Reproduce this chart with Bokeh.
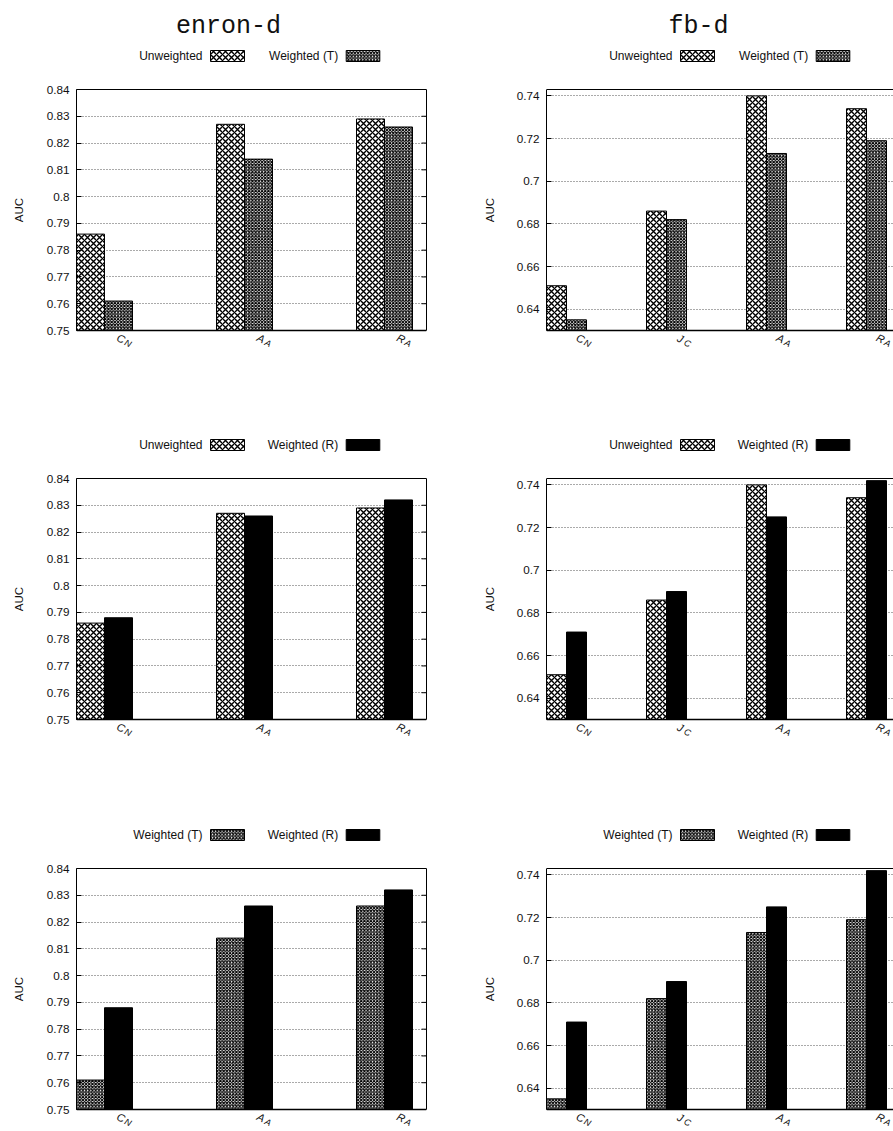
import math

from bokeh.core.properties import value
from bokeh.embed import file_html
from bokeh.layouts import column, row
from bokeh.models import FixedTicker, LinearAxis, Range1d
from bokeh.plotting import figure
from bokeh.resources import INLINE

# AUC of each link-prediction method
enron_methods = ["CN", "AA", "RA"]
enron_unweighted = [0.786, 0.827, 0.829]
enron_weighted_t = [0.761, 0.814, 0.826]
enron_weighted_r = [0.788, 0.826, 0.832]

fb_methods = ["CN", "JC", "AA", "RA"]
fb_unweighted = [0.651, 0.686, 0.740, 0.734]
fb_weighted_t = [0.635, 0.682, 0.713, 0.719]
fb_weighted_r = [0.671, 0.690, 0.725, 0.742]

enron_ticks = [0.75, 0.76, 0.77, 0.78, 0.79, 0.80, 0.81, 0.82, 0.83, 0.84]
enron_tick_labels = ["0.75", "0.76", "0.77", "0.78", "0.79", "0.8", "0.81", "0.82", "0.83", "0.84"]
fb_ticks = [0.64, 0.66, 0.68, 0.70, 0.72, 0.74]
fb_tick_labels = ["0.64", "0.66", "0.68", "0.7", "0.72", "0.74"]

SANS = "Liberation Sans"
INK = "#111111"
PLOT_H = 241  # height of the value area in pixels

STYLES = {
    "Unweighted": dict(fill_color="white", hatch_pattern="diagonal_cross",
                       hatch_color="black", hatch_scale=6.0, hatch_weight=1.4),
    "Weighted (T)": dict(fill_color="white", hatch_pattern="diagonal_cross",
                         hatch_color="black", hatch_scale=3.2, hatch_weight=1.2),
    "Weighted (R)": dict(fill_color="black"),
}


def axis_title(width, height, top_px, x_center):
    """Narrow strip holding the rotated 'AUC' title, centred on the value area."""
    p = figure(width=width, height=height, output_backend="svg", toolbar_location=None,
               x_range=Range1d(0, width), y_range=Range1d(0, height),
               min_border_left=0, min_border_right=0, min_border_top=0,
               min_border_bottom=0, x_axis_location=None, y_axis_location=None,
               outline_line_color=None, background_fill_color="white",
               border_fill_color="white")
    p.grid.visible = False
    p.text(x=[x_center], y=[height - (top_px + PLOT_H / 2)], text=["AUC"],
           angle=math.pi / 2, text_align="center", text_baseline="middle",
           text_font=value(SANS), text_font_size=value("11.5px"), text_color=INK)
    return p


def make_panel(methods, pair, y_lo, y_hi, ticks, tick_labels, width, height,
               border_left, border_right, top_px, x_end, label_dx, closed_right,
               title=None):
    x_start = -0.2
    fw = width - border_left - border_right
    px_x = fw / (x_end - x_start)
    k = (y_hi - y_lo) / PLOT_H  # value units per pixel

    # the frame spans the whole height: key and title above, names below
    y_end = y_hi + top_px * k
    y_start = y_lo - (height - top_px - PLOT_H) * k

    p = figure(width=width, height=height, output_backend="svg", toolbar_location=None,
               x_range=Range1d(x_start, x_end), y_range=Range1d(y_start, y_end),
               min_border_left=border_left, min_border_right=border_right,
               min_border_top=0, min_border_bottom=0, x_axis_location=None,
               outline_line_color=None, background_fill_color="white",
               border_fill_color="white")

    def fx(px):
        return x_start + px / px_x

    def fy(px):  # pixels above the top of the value area
        return y_hi + px * k

    idx = list(range(len(methods)))
    for j, (name, vals) in enumerate(pair):
        off = -0.1 if j == 0 else 0.1
        p.vbar(x=[i + off for i in idx], top=vals, bottom=y_lo, width=0.2,
               line_color="black", line_width=1, **STYLES[name])

    yax = p.yaxis[0]
    yax.bounds = (y_lo, y_hi)
    yax.ticker = FixedTicker(ticks=ticks)
    yax.major_label_overrides = dict(zip(ticks, tick_labels))
    yax.major_tick_in = 5
    yax.major_tick_out = 0
    yax.major_tick_line_color = "black"
    yax.minor_tick_line_color = None
    yax.major_label_standoff = 7
    yax.major_label_text_font = SANS
    yax.major_label_text_font_size = "11.7px"
    yax.major_label_text_color = INK
    yax.axis_line_color = "black"

    p.ygrid.ticker = FixedTicker(ticks=ticks)
    p.ygrid.grid_line_color = "#555555"
    p.ygrid.grid_line_dash = "1 2"
    p.ygrid.grid_line_width = 1
    p.xgrid.visible = False

    # frame lines of the value area
    p.segment(x0=[x_start], x1=[x_end], y0=[y_lo], y1=[y_lo], line_color="black",
              line_width=1.6)
    p.segment(x0=[x_start], x1=[x_end], y0=[y_hi], y1=[y_hi], line_color="black",
              line_width=1)
    if closed_right:
        rax = LinearAxis(ticker=FixedTicker(ticks=[]), bounds=(y_lo, y_hi),
                         major_tick_line_color=None, minor_tick_line_color=None,
                         axis_line_color="black")
        p.add_layout(rax, "right")
        p.segment(x0=[x_end - 5 / px_x] * len(ticks), x1=[x_end] * len(ticks),
                  y0=ticks, y1=ticks, line_color="black", line_width=1)

    # method names: main letter with a lowered, smaller second letter
    ang = -math.radians(25)
    p.text(x=[i + label_dx / px_x for i in idx], y=[y_lo - 8 * k] * len(idx),
           text=[m[0] for m in methods], angle=ang, text_align="center",
           text_baseline="middle", text_font=value(SANS), text_font_style="italic",
           text_font_size=value("11px"), text_color=INK)
    p.text(x=[i + (label_dx + 7.0) / px_x for i in idx], y=[y_lo - 12.8 * k] * len(idx),
           text=[m[1:] for m in methods], angle=ang, text_align="center",
           text_baseline="middle", text_font=value(SANS), text_font_style="italic",
           text_font_size=value("9px"), text_color=INK)

    # key above the value area: name followed by its swatch
    swatches = [(134, 168), (269.7, 303.3)]
    for (name, _), (left, right) in zip(pair, swatches):
        p.quad(left=[fx(left)], right=[fx(right)], bottom=[fy(33.5 - 5.5)],
               top=[fy(33.5 + 5.5)], line_color="black", line_width=1, **STYLES[name])
        p.text(x=[fx(left - 8)], y=[fy(33.5)], text=[name], text_align="right",
               text_baseline="middle", text_font=value(SANS),
               text_font_size=value("12px"), text_color=INK)

    if title:
        p.text(x=[fx(152)], y=[fy(62.7)], text=[title], text_align="center",
               text_baseline="alphabetic", text_font=value("Liberation Mono"),
               text_font_size=value("25px"), text_color=INK)
    return p


pairs_enron = [
    [("Unweighted", enron_unweighted), ("Weighted (T)", enron_weighted_t)],
    [("Unweighted", enron_unweighted), ("Weighted (R)", enron_weighted_r)],
    [("Weighted (T)", enron_weighted_t), ("Weighted (R)", enron_weighted_r)],
]
pairs_fb = [
    [("Unweighted", fb_unweighted), ("Weighted (T)", fb_weighted_t)],
    [("Unweighted", fb_unweighted), ("Weighted (R)", fb_weighted_r)],
    [("Weighted (T)", fb_weighted_t), ("Weighted (R)", fb_weighted_r)],
]

heights = [389, 389, 353]
tops = [89, 89, 90]

rows = []
for r in range(3):
    h, t = heights[r], tops[r]
    left_title = axis_title(36, h, t, 18.7)
    left = make_panel(enron_methods, pairs_enron[r], 0.75, 0.84, enron_ticks,
                      enron_tick_labels, 414, h, 40, 24, t, 2.3, 16.5,
                      True, "enron-d" if r == 0 else None)
    right_title = axis_title(56, h, t, 39.0)
    right = make_panel(fb_methods, pairs_fb[r], 0.63, 0.743, fb_ticks, fb_tick_labels,
                       387, h, 40, 0, t, 3.27, 14.0, False,
                       "fb-d" if r == 0 else None)
    rows.append(row(left_title, left, right_title, right))

layout = column(*rows)

with open("out.html", "w") as f:
    f.write(file_html(layout, INLINE))
